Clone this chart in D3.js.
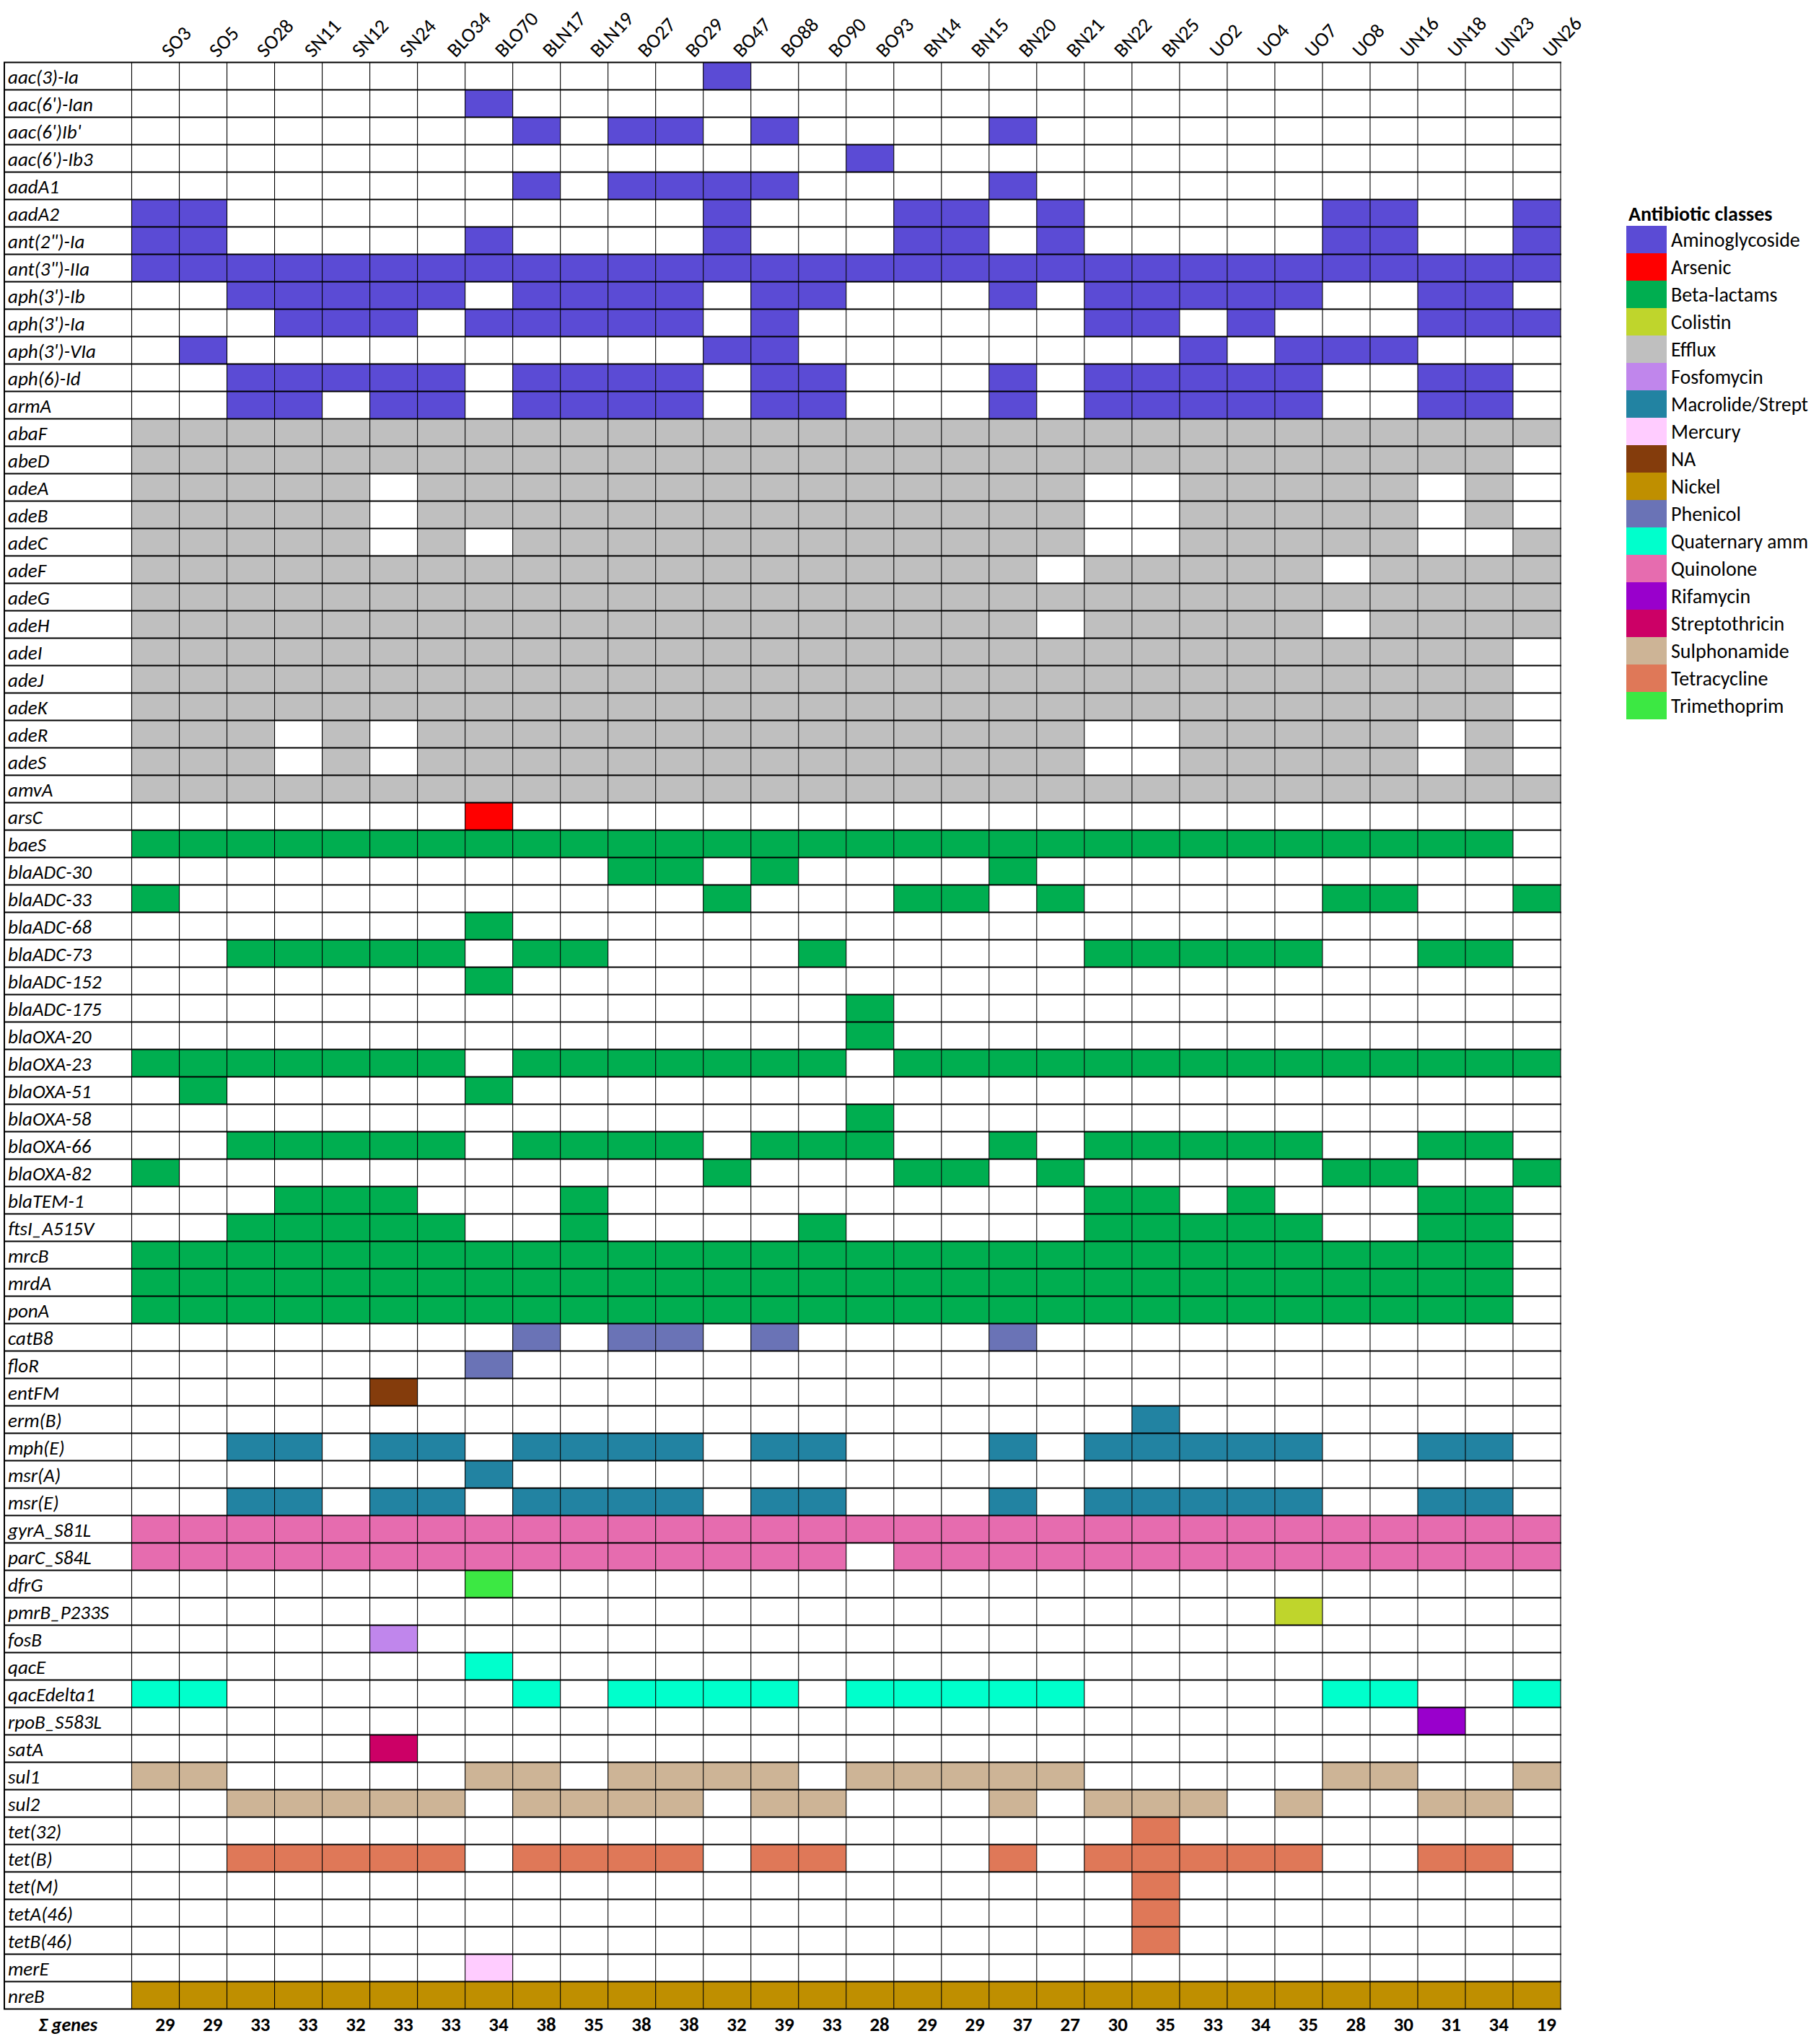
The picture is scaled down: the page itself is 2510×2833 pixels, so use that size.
<!DOCTYPE html>
<html><head><meta charset="utf-8">
<script src="https://cdn.jsdelivr.net/npm/d3@7"></script>
<style>
body{margin:0;background:#fff}
svg{display:block}
text{font-family:Carlito, Calibri, Lato, "Open Sans", sans-serif;fill:#000}
</style>
</head><body>
<svg id="chart" width="2510" height="2833"></svg>
<script>
const samples = ["SO3","SO5","SO28","SN11","SN12","SN24","BLO34","BLO70","BLN17","BLN19","BO27","BO29","BO47","BO88","BO90","BO93","BN14","BN15","BN20","BN21","BN22","BN25","UO2","UO4","UO7","UO8","UN16","UN18","UN23","UN26"];

const genes = ["aac(3)-Ia","aac(6')-Ian","aac(6')Ib'","aac(6')-Ib3","aadA1","aadA2","ant(2\")-Ia","ant(3\")-IIa","aph(3')-Ib","aph(3')-Ia","aph(3')-VIa","aph(6)-Id","armA",
"abaF","abeD","adeA","adeB","adeC","adeF","adeG","adeH","adeI","adeJ","adeK","adeR","adeS","amvA",
"arsC","baeS","blaADC-30","blaADC-33","blaADC-68","blaADC-73","blaADC-152","blaADC-175","blaOXA-20","blaOXA-23","blaOXA-51","blaOXA-58","blaOXA-66","blaOXA-82","blaTEM-1","ftsI_A515V","mrcB","mrdA","ponA",
"catB8","floR","entFM","erm(B)","mph(E)","msr(A)","msr(E)","gyrA_S81L","parC_S84L","dfrG","pmrB_P233S","fosB","qacE","qacEdelta1","rpoB_S583L","satA","sul1","sul2","tet(32)","tet(B)","tet(M)","tetA(46)","tetB(46)","merE","nreB"];

const geneClass = ["Aminoglycoside","Aminoglycoside","Aminoglycoside","Aminoglycoside","Aminoglycoside","Aminoglycoside","Aminoglycoside","Aminoglycoside","Aminoglycoside","Aminoglycoside","Aminoglycoside","Aminoglycoside","Aminoglycoside",
"Efflux","Efflux","Efflux","Efflux","Efflux","Efflux","Efflux","Efflux","Efflux","Efflux","Efflux","Efflux","Efflux","Efflux",
"Arsenic","Beta-lactams","Beta-lactams","Beta-lactams","Beta-lactams","Beta-lactams","Beta-lactams","Beta-lactams","Beta-lactams","Beta-lactams","Beta-lactams","Beta-lactams","Beta-lactams","Beta-lactams","Beta-lactams","Beta-lactams","Beta-lactams","Beta-lactams","Beta-lactams",
"Phenicol","Phenicol","NA","Macrolide/Strept","Macrolide/Strept","Macrolide/Strept","Macrolide/Strept","Quinolone","Quinolone","Trimethoprim","Colistin","Fosfomycin","Quaternary amm","Quaternary amm","Rifamycin","Streptothricin","Sulphonamide","Sulphonamide","Tetracycline","Tetracycline","Tetracycline","Tetracycline","Tetracycline","Mercury","Nickel"];

// presence of each gene (rows) in each sample (columns), 1 = present
const presence = [
"00000 00000 00100 00000 00000 00000",
"00000 00100 00000 00000 00000 00000",
"00000 00010 11010 00010 00000 00000",
"00000 00000 00000 10000 00000 00000",
"00000 00010 11110 00010 00000 00000",
"11000 00000 00100 01101 00000 11001",
"11000 00100 00100 01101 00000 11001",
"11111 11111 11111 11111 11111 11111",
"00111 11011 11011 00010 11111 00110",
"00011 10111 11010 00000 11010 00111",
"01000 00000 00110 00000 00101 11000",
"00111 11011 11011 00010 11111 00110",
"00110 11011 11011 00010 11111 00110",
"11111 11111 11111 11111 11111 11111",
"11111 11111 11111 11111 11111 11110",
"11111 01111 11111 11111 00111 11010",
"11111 01111 11111 11111 00111 11010",
"11111 01011 11111 11111 00111 11001",
"11111 11111 11111 11110 11111 01111",
"11111 11111 11111 11111 11111 11111",
"11111 11111 11111 11110 11111 01111",
"11111 11111 11111 11111 11111 11110",
"11111 11111 11111 11111 11111 11110",
"11111 11111 11111 11111 11111 11110",
"11101 01111 11111 11111 00111 11010",
"11101 01111 11111 11111 00111 11010",
"11111 11111 11111 11111 11111 11111",
"00000 00100 00000 00000 00000 00000",
"11111 11111 11111 11111 11111 11110",
"00000 00000 11010 00010 00000 00000",
"10000 00000 00100 01101 00000 11001",
"00000 00100 00000 00000 00000 00000",
"00111 11011 00001 00000 11111 00110",
"00000 00100 00000 00000 00000 00000",
"00000 00000 00000 10000 00000 00000",
"00000 00000 00000 10000 00000 00000",
"11111 11011 11111 01111 11111 11111",
"01000 00100 00000 00000 00000 00000",
"00000 00000 00000 10000 00000 00000",
"00111 11011 11011 10010 11111 00110",
"10000 00000 00100 01101 00000 11001",
"00011 10001 00000 00000 11010 00110",
"00111 11001 00001 00000 11111 00110",
"11111 11111 11111 11111 11111 11110",
"11111 11111 11111 11111 11111 11110",
"11111 11111 11111 11111 11111 11110",
"00000 00010 11010 00010 00000 00000",
"00000 00100 00000 00000 00000 00000",
"00000 10000 00000 00000 00000 00000",
"00000 00000 00000 00000 01000 00000",
"00110 11011 11011 00010 11111 00110",
"00000 00100 00000 00000 00000 00000",
"00110 11011 11011 00010 11111 00110",
"11111 11111 11111 11111 11111 11111",
"11111 11111 11111 01111 11111 11111",
"00000 00100 00000 00000 00000 00000",
"00000 00000 00000 00000 00001 00000",
"00000 10000 00000 00000 00000 00000",
"00000 00100 00000 00000 00000 00000",
"11000 00010 11110 11111 00000 11001",
"00000 00000 00000 00000 00000 00100",
"00000 10000 00000 00000 00000 00000",
"11000 00110 11110 11111 00000 11001",
"00111 11011 11011 00010 11101 00110",
"00000 00000 00000 00000 01000 00000",
"00111 11011 11011 00010 11111 00110",
"00000 00000 00000 00000 01000 00000",
"00000 00000 00000 00000 01000 00000",
"00000 00000 00000 00000 01000 00000",
"00000 00100 00000 00000 00000 00000",
"11111 11111 11111 11111 11111 11111"
];

const totals = [29,29,33,33,32,33,33,34,38,35,38,38,32,39,33,28,29,29,37,27,30,35,33,34,35,28,30,31,34,19];

// legend class names as they appear (the two longest are cut at the picture's right edge)
const classes = ["Aminoglycoside","Arsenic","Beta-lactams","Colistin","Efflux","Fosfomycin","Macrolide/Strept","Mercury","NA","Nickel","Phenicol","Quaternary amm","Quinolone","Rifamycin","Streptothricin","Sulphonamide","Tetracycline","Trimethoprim"];
const classColors = ["#5b4bd5","#ff0000","#00ae50","#bfd52c","#bfbfbf","#c086ec","#2283a2","#ffccff","#843c0c","#bf8f00","#6a73b6","#00ffcc","#e66caf","#9900cc","#cc0066","#cdb496","#df7858","#3ce843"];

const svg = d3.select("#chart");
const W = 2510, H = 2833;
svg.append("rect").attr("width", W).attr("height", H).attr("fill", "#fff");

const labelLeft = 6;
const x = d3.scaleBand().domain(samples).range([182.5, 2163]).padding(0);
const y = d3.scaleBand().domain(genes).range([86.5, 86.5 + 38 * genes.length]).padding(0);
const color = d3.scaleOrdinal().domain(classes).range(classColors);

// cells
const cells = [];
genes.forEach((g, i) => {
  const row = presence[i].replace(/\s+/g, "");
  samples.forEach((s, j) => {
    if (row[j] === "1") cells.push({gene: g, sample: s, cls: geneClass[i]});
  });
});
svg.append("g").selectAll("rect").data(cells).join("rect")
  .attr("x", d => x(d.sample))
  .attr("y", d => y(d.gene))
  .attr("width", x.bandwidth())
  .attr("height", y.bandwidth())
  .attr("fill", d => color(d.cls));

// grid lines
const gridTop = y.range()[0], gridBottom = y.range()[1];
const grid = svg.append("g");
const xEdges = samples.map(s => x(s)).concat([x.range()[1]]);
grid.selectAll("line.v").data(xEdges).join("line")
  .attr("x1", d => d).attr("x2", d => d)
  .attr("y1", gridTop).attr("y2", gridBottom)
  .attr("stroke", "#000").attr("stroke-width", 1.1);
grid.append("line").attr("x1", labelLeft).attr("x2", labelLeft)
  .attr("y1", gridTop).attr("y2", gridBottom)
  .attr("stroke", "#000").attr("stroke-width", 2);
const yEdges = genes.map(g => y(g)).concat([gridBottom]);
grid.selectAll("line.h").data(yEdges).join("line")
  .attr("x1", labelLeft - 1).attr("x2", x.range()[1] + 1)
  .attr("y1", d => d).attr("y2", d => d)
  .attr("stroke", "#000").attr("stroke-width", 2.2);

// row labels
svg.append("g").selectAll("text").data(genes).join("text")
  .attr("x", 11)
  .attr("y", d => y(d) + 29)
  .attr("font-size", 27)
  .attr("font-style", "italic")
  .text(d => d);

// column labels
svg.append("g").selectAll("text").data(samples).join("text")
  .attr("transform", d => `translate(${x(d) + x.bandwidth() / 2 + 20},81) rotate(-47)`)
  .attr("font-size", 28)
  .text(d => d);

// totals row
const totY = 2815;
svg.append("text")
  .attr("x", (labelLeft + x.range()[0]) / 2).attr("y", totY)
  .attr("text-anchor", "middle").attr("font-size", 26)
  .attr("font-weight", "bold").attr("font-style", "italic")
  .text("\u03A3 genes");
svg.append("g").selectAll("text").data(totals).join("text")
  .attr("x", (d, i) => x(samples[i]) + x.bandwidth() - 6)
  .attr("y", totY)
  .attr("text-anchor", "end")
  .attr("font-size", 27).attr("font-weight", "bold")
  .text(d => d);

// legend
const lg = svg.append("g");
const lgX = 2254, lgY = 313, lgRow = 38;
lg.append("text").attr("x", 2257).attr("y", 306)
  .attr("font-size", 28).attr("font-weight", "bold")
  .text("Antibiotic classes");
const items = lg.selectAll("g.item").data(classes).join("g")
  .attr("transform", (d, i) => `translate(${lgX},${lgY + i * lgRow})`);
items.append("rect").attr("width", 56).attr("height", lgRow)
  .attr("fill", d => color(d));
const lt = items.append("text").attr("x", 62).attr("y", 29)
  .attr("font-size", 28).text(d => d);
// the two names that run to the picture's right edge are fitted to it
lt.filter(d => d === "Macrolide/Strept" || d === "Quaternary amm")
  .attr("textLength", 2506 - (lgX + 62)).attr("lengthAdjust", "spacingAndGlyphs");
</script>
</body></html>
